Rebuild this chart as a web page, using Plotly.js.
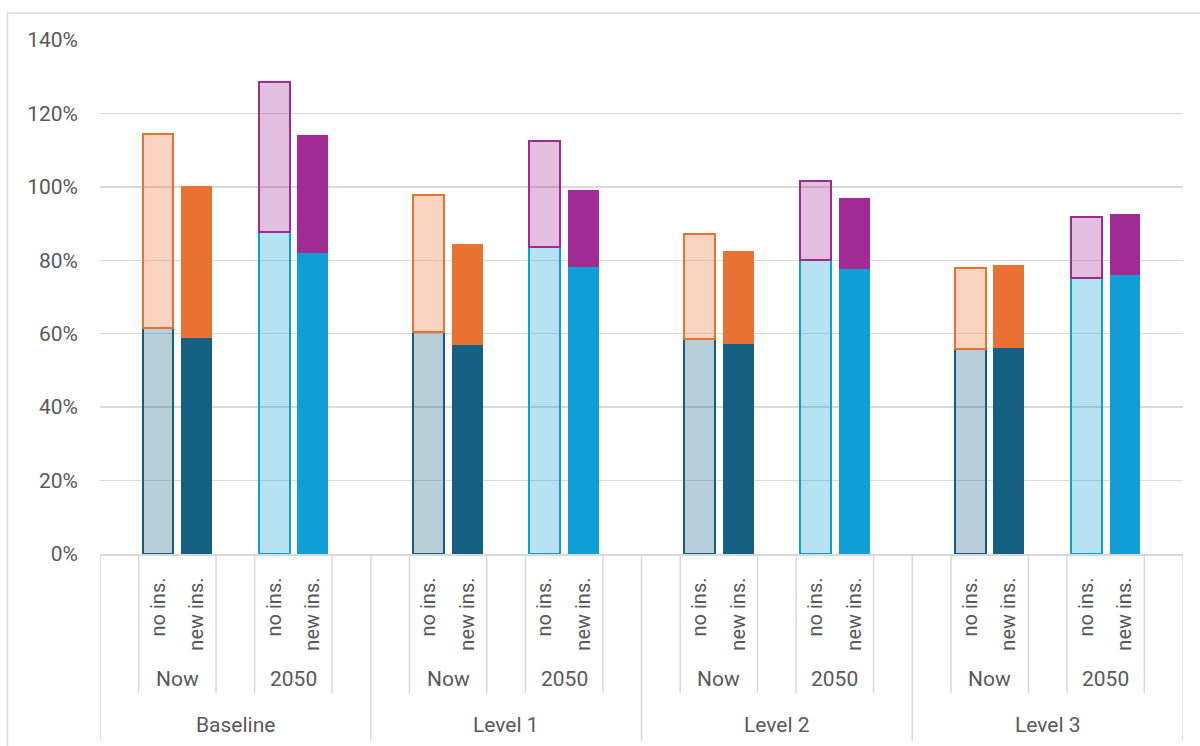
<!DOCTYPE html>
<html>
<head>
<meta charset="utf-8">
<script src="https://cdn.plot.ly/plotly-3.0.1.min.js"></script>
<style>
  html, body { margin: 0; padding: 0; background: #ffffff; }
  #chart { width: 1200px; height: 746px; }
</style>
</head>
<body>
<div id="chart"></div>
<script>
// ---- Data (percent) ----
const levels = ['Baseline', 'Level 1', 'Level 2', 'Level 3'];
const periods = ['Now', '2050'];
const insLabels = ['no ins.', 'new ins.'];

// Now, no insulation: lower segment and total height
const nowNoBase   = [61.6, 60.6, 58.5, 55.8];
const nowNoTotal  = [114.4, 97.8, 87.1, 77.9];
// Now, new insulation
const nowNewBase  = [58.7, 56.9, 57.2, 56.1];
const nowNewTotal = [100.1, 84.4, 82.4, 78.6];
// 2050, no insulation
const y2050NoBase   = [87.6, 83.7, 80.1, 75.1];
const y2050NoTotal  = [128.6, 112.5, 101.5, 91.9];
// 2050, new insulation
const y2050NewBase  = [81.9, 78.1, 77.6, 76.0];
const y2050NewTotal = [114.2, 99.1, 96.9, 92.7];

// ---- Layout helpers ----
const SLOTS = 7; // blank, no, new, blank, no, new, blank
const pos = (lvl, slot) => lvl * SLOTS + slot + 0.5;
const idx = levels.map((_, i) => i);
const diff = (a, b) => a.map((v, i) => +(v - b[i]).toFixed(2));

const BLUE_D = '#156082', ORANGE = '#E97132', BLUE_L = '#0F9ED5', PURPLE = '#A02B93';
const fade = (hex, a) => {
  const r = parseInt(hex.slice(1, 3), 16), g = parseInt(hex.slice(3, 5), 16), b = parseInt(hex.slice(5, 7), 16);
  return `rgba(${r},${g},${b},${a})`;
};

function barTrace(xs, ys, color, hollow) {
  return {
    type: 'bar', x: xs, y: ys, width: 0.8,
    marker: hollow
      ? { color: fade(color, 0.3), line: { color: color, width: 2 } }
      : { color: color, line: { width: 0 } },
    hoverinfo: 'skip', showlegend: false
  };
}

const xNowNo   = idx.map(i => pos(i, 1));
const xNowNew  = idx.map(i => pos(i, 2));
const x50No    = idx.map(i => pos(i, 4));
const x50New   = idx.map(i => pos(i, 5));

const traces = [
  barTrace(xNowNo, nowNoBase, BLUE_D, true),
  barTrace(xNowNo, diff(nowNoTotal, nowNoBase), ORANGE, true),
  barTrace(xNowNew, nowNewBase, BLUE_D, false),
  barTrace(xNowNew, diff(nowNewTotal, nowNewBase), ORANGE, false),
  barTrace(x50No, y2050NoBase, BLUE_L, true),
  barTrace(x50No, diff(y2050NoTotal, y2050NoBase), PURPLE, true),
  barTrace(x50New, y2050NewBase, BLUE_L, false),
  barTrace(x50New, diff(y2050NewTotal, y2050NewBase), PURPLE, false)
];

// tick labels for the innermost category level
const tickvals = [], ticktext = [];
idx.forEach(i => {
  [1, 2, 4, 5].forEach((s, k) => {
    tickvals.push(pos(i, s));
    ticktext.push(insLabels[k % 2]);
  });
});

// plot-area geometry in pixels (for paper coordinates)
const L = 100, R = 1183, T = 40, B = 554;
const py = p => (B - p) / (B - T);
const px = p => (p - L) / (R - L);

const GRID = '#D9D9D9';
const TXT = '#595959';
const shapes = [];
// level boundaries
for (let i = 0; i <= levels.length; i++) {
  shapes.push({ type: 'line', xref: 'x', yref: 'paper', x0: i * SLOTS, x1: i * SLOTS,
    y0: 0, y1: py(741), line: { color: GRID, width: 1.5 } });
}
// inner separators
idx.forEach(i => {
  [1, 3, 4, 6].forEach(s => {
    shapes.push({ type: 'line', xref: 'x', yref: 'paper', x0: i * SLOTS + s, x1: i * SLOTS + s,
      y0: 0, y1: py(693), line: { color: GRID, width: 1.5 } });
  });
});
// outer chart border
shapes.push({ type: 'rect', xref: 'paper', yref: 'paper',
  x0: px(7.5), x1: px(1205), y0: py(752), y1: py(13),
  line: { color: GRID, width: 1.5 }, fillcolor: 'rgba(0,0,0,0)' });

const annotations = [];
idx.forEach(i => {
  annotations.push({ xref: 'x', yref: 'paper', x: i * SLOTS + 2, y: py(679), text: periods[0],
    showarrow: false, yanchor: 'middle', font: { size: 21, color: TXT } });
  annotations.push({ xref: 'x', yref: 'paper', x: i * SLOTS + 5, y: py(679), text: periods[1],
    showarrow: false, yanchor: 'middle', font: { size: 21, color: TXT } });
  annotations.push({ xref: 'x', yref: 'paper', x: i * SLOTS + 3.5, y: py(725), text: levels[i],
    showarrow: false, yanchor: 'middle', font: { size: 21, color: TXT } });
});

const layout = {
  width: 1200, height: 746,
  margin: { l: L, r: 1200 - R, t: T, b: 746 - B, pad: 0 },
  paper_bgcolor: '#ffffff', plot_bgcolor: '#ffffff',
  font: { family: 'Roboto, "Open Sans", sans-serif', size: 20, color: TXT },
  barmode: 'stack',
  showlegend: false,
  xaxis: {
    range: [0, levels.length * SLOTS], type: 'linear',
    tickvals: tickvals, ticktext: ticktext, tickangle: -90,
    ticks: '', ticklabelstandoff: 14,
    showgrid: false, zeroline: false,
    showline: true, linecolor: GRID, linewidth: 1.5,
    tickfont: { size: 20, color: TXT }, fixedrange: true
  },
  yaxis: {
    range: [0, 140], dtick: 20, ticksuffix: '%',
    showgrid: true, gridcolor: GRID, gridwidth: 1.5,
    zeroline: false, showline: false, ticks: '',
    ticklabelstandoff: 21,
    tickfont: { size: 21, color: TXT }, fixedrange: true
  },
  shapes: shapes,
  annotations: annotations
};

Plotly.newPlot('chart', traces, layout, { displayModeBar: false, staticPlot: true });
</script>
</body>
</html>
